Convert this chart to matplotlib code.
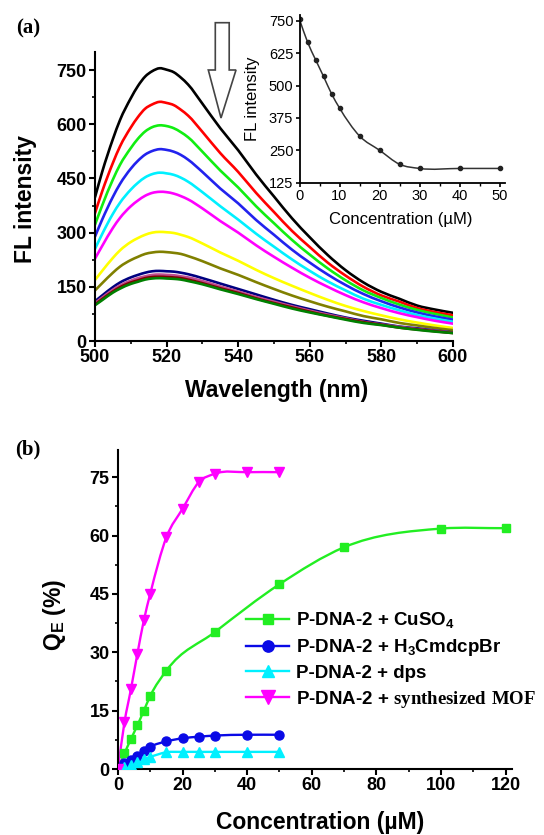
import matplotlib
matplotlib.use("Agg")
import numpy as np
import matplotlib.pyplot as plt
from matplotlib.patches import Polygon, PathPatch
from matplotlib.path import Path
from matplotlib.lines import Line2D
from matplotlib.ticker import MultipleLocator

plt.rcParams['font.family'] = ['Liberation Sans', 'DejaVu Sans']
plt.rcParams['mathtext.fontset'] = 'custom'
plt.rcParams['mathtext.rm'] = 'Liberation Serif:bold'
plt.rcParams['mathtext.sf'] = 'Liberation Sans:bold'
plt.rcParams['mathtext.bf'] = 'Liberation Serif:bold'

# ---------------- data: panel (a) spectra ----------------
wavelength = [500, 502, 505, 507, 510, 512, 514, 516, 518, 520, 522, 524, 526, 530,
              535, 540, 545, 550, 555, 560, 565, 570, 575, 580, 585, 590, 595, 600]
spec_black = [398, 468, 559, 612, 672, 706, 732, 747, 755, 751, 744, 729, 710, 657,
              589, 528, 461, 400, 340, 287, 238, 196, 162, 136, 117, 98, 87, 78]
spec_red = [354, 414, 493, 539, 591, 620, 643, 655, 662, 659, 653, 640, 624, 579,
            520, 468, 410, 357, 305, 260, 217, 181, 150, 126, 109, 91, 80, 71]
spec_green = [322, 375, 447, 488, 534, 560, 580, 592, 597, 595, 589, 578, 564, 524,
              472, 425, 373, 326, 280, 239, 201, 168, 140, 119, 101, 86, 75, 65]
spec_blue = [289, 336, 399, 435, 477, 499, 516, 526, 531, 529, 524, 515, 502, 468,
             422, 381, 335, 294, 253, 217, 184, 155, 130, 110, 93, 79, 68, 59]
spec_cyan = [255, 296, 352, 383, 419, 438, 453, 462, 466, 464, 460, 452, 441, 412,
             373, 336, 297, 261, 226, 194, 165, 140, 117, 100, 85, 72, 62, 53]
spec_magenta = [228, 263, 313, 341, 373, 389, 402, 410, 413, 412, 408, 401, 392, 367,
                332, 300, 265, 233, 203, 175, 150, 127, 107, 91, 77, 66, 56, 48]
spec_yellow = [169, 194, 230, 251, 274, 285, 294, 300, 302, 301, 299, 294, 288, 270,
               245, 222, 197, 174, 153, 133, 114, 97, 83, 71, 60, 51, 43, 36]
spec_darkyellow = [140, 160, 189, 206, 224, 233, 241, 245, 247, 246, 244, 241, 235, 221,
                   201, 183, 163, 144, 126, 110, 95, 82, 69, 60, 50, 43, 36, 30]
spec_navy = [110, 126, 149, 162, 176, 183, 189, 193, 194, 193, 192, 189, 185, 174,
             159, 144, 129, 114, 100, 88, 76, 65, 56, 48, 40, 35, 29, 24]
spec_purple = [105, 120, 142, 154, 167, 174, 179, 183, 184, 183, 182, 179, 176, 166,
               151, 137, 122, 109, 96, 84, 73, 63, 53, 46, 39, 33, 28, 23]
spec_wine = [101, 116, 137, 149, 162, 168, 174, 177, 178, 177, 176, 174, 170, 160,
             146, 133, 118, 105, 93, 81, 70, 61, 52, 45, 37, 32, 27, 22]
spec_olive = [99, 113, 134, 145, 158, 164, 170, 173, 174, 173, 172, 170, 166, 157,
              143, 130, 116, 103, 90, 79, 69, 59, 50, 44, 37, 31, 26, 22]

spectra = [spec_black, spec_red, spec_green, spec_blue, spec_cyan, spec_magenta,
           spec_yellow, spec_darkyellow, spec_navy, spec_purple, spec_wine, spec_olive]
spec_colors = ['#000000', '#ff0000', '#11ee11', '#2222ee', '#00f0ff', '#ff00ff',
               '#ffff00', '#808000', '#000080', '#c04c90', '#800000', '#008000']

# inset
inset_conc = [0, 2, 4, 6, 8, 10, 15, 20, 25, 30, 40, 50]
inset_fl = [755, 668, 600, 535, 468, 413, 305, 250, 196, 180, 180, 180]

# ---------------- data: panel (b) ----------------
conc_cu = [0, 2, 4, 6, 8, 10, 15, 30, 50, 70, 100, 120]
qe_cu = [0, 4.0, 7.7, 11.2, 15.0, 18.8, 25.3, 35.2, 47.5, 57.0, 61.8, 61.9]
conc_h3 = [0, 2, 4, 6, 8, 10, 15, 20, 25, 30, 40, 50]
qe_h3 = [0, 1.5, 2.3, 3.3, 4.6, 5.7, 7.1, 7.9, 8.3, 8.6, 8.8, 8.8]
conc_dps = [0, 2, 4, 6, 8, 10, 15, 20, 25, 30, 40, 50]
qe_dps = [0, 0.6, 1.1, 1.8, 2.5, 3.1, 4.3, 4.4, 4.4, 4.4, 4.4, 4.4]
conc_mof = [0, 2, 4, 6, 8, 10, 15, 20, 25, 30, 40, 50]
qe_mof = [0, 12.0, 20.5, 29.6, 38.2, 45.1, 59.6, 66.9, 73.7, 75.9, 76.3, 76.3]

legend_labels = ['P-DNA-2 + CuSO$_\\mathsf{4}$',
                 'P-DNA-2 + H$_\\mathsf{3}$CmdcpBr',
                 'P-DNA-2 + dps',
                 'P-DNA-2 + $\\mathrm{synthesized\\ MOF}$']


def smooth_path(x, y):
    """Smooth cubic Bezier path through the data points (three-point tangents)."""
    x = np.asarray(x, float)
    y = np.asarray(y, float)
    h = np.diff(x)
    d = np.diff(y) / h
    n = len(x)
    m = np.zeros(n)
    m[0], m[-1] = d[0], d[-1]
    for i in range(1, n - 1):
        m[i] = (h[i] * d[i - 1] + h[i - 1] * d[i]) / (h[i - 1] + h[i])
    verts = [(x[0], y[0])]
    codes = [Path.MOVETO]
    for i in range(n - 1):
        verts += [(x[i] + h[i] / 3, y[i] + m[i] * h[i] / 3),
                  (x[i + 1] - h[i] / 3, y[i + 1] - m[i + 1] * h[i] / 3),
                  (x[i + 1], y[i + 1])]
        codes += [Path.CURVE4] * 3
    return Path(verts, codes)


def smooth_line(ax, x, y, color, lw, zorder=2):
    p = PathPatch(smooth_path(x, y), facecolor='none', edgecolor=color, lw=lw,
                  capstyle='round', joinstyle='round', zorder=zorder)
    ax.add_patch(p)
    return p


W, H = 544, 835
fig = plt.figure(figsize=(W / 100, H / 100), dpi=100)


def style_axes(ax, lw=1.5):
    for s in ['top', 'right']:
        ax.spines[s].set_visible(False)
    for s in ['left', 'bottom']:
        ax.spines[s].set_linewidth(lw)


# ---------------- panel (a) ----------------
axa = fig.add_axes([95 / W, 1 - 341 / H, (453 - 95) / W, (341 - 52) / H])
for k, (y, c) in enumerate(zip(spectra, spec_colors)):
    smooth_line(axa, wavelength, y, c, 1.9, zorder=2 + k * 0.01)
axa.set_xlim(500, 600)
axa.set_ylim(0, 800)
axa.xaxis.set_major_locator(MultipleLocator(20))
axa.xaxis.set_minor_locator(MultipleLocator(10))
axa.yaxis.set_major_locator(MultipleLocator(150))
axa.yaxis.set_minor_locator(MultipleLocator(75))
style_axes(axa)
axa.tick_params(which='major', direction='out', length=4, width=1.5, labelsize=13, pad=2)
axa.tick_params(which='minor', direction='out', length=2.5, width=1.2)
for lab in axa.get_xticklabels() + axa.get_yticklabels():
    lab.set_fontweight('bold')
axa.set_xlabel('Wavelength (nm)', fontsize=16.5, fontweight='bold')
axa.set_ylabel('FL intensity', fontsize=16.5, fontweight='bold')
axa.xaxis.set_label_coords(0.506, -0.170)
axa.xaxis.label.set_va('center')
axa.yaxis.set_label_coords(-0.193, 0.491)
axa.yaxis.label.set_va('center')

# inset
axi = fig.add_axes([299.5 / W, 1 - 182.7 / H, (505 - 299.5) / W, (182.7 - 15) / H])
smooth_line(axi, inset_conc, inset_fl, '#333333', 1.1)
axi.plot(inset_conc, inset_fl, linestyle='none', marker='o', ms=3.0,
         mfc='#222222', mec='#222222')
axi.set_xlim(0, 51.3)
axi.set_ylim(125, 772)
axi.xaxis.set_major_locator(MultipleLocator(10))
axi.xaxis.set_minor_locator(MultipleLocator(5))
axi.yaxis.set_major_locator(MultipleLocator(125))
style_axes(axi, lw=1.3)
axi.tick_params(which='major', direction='out', length=3, width=1.2, labelsize=10.5, pad=1.5)
axi.tick_params(which='minor', direction='out', length=2, width=1.0)
axi.set_xlabel('Concentration (\u00b5M)', fontsize=12)
axi.set_ylabel('FL intensity', fontsize=12)
axi.xaxis.set_label_coords(0.494, -0.222)
axi.xaxis.label.set_va('center')
axi.yaxis.set_label_coords(-0.231, 0.502)
axi.yaxis.label.set_va('center')
axi.patch.set_alpha(0)

# arrow
arrow_px = [(215.3, 22.7), (229.2, 22.7), (229.2, 70), (236, 70), (221, 118),
            (208.3, 70), (215.3, 70)]
arrow = Polygon([(x / W, 1 - y / H) for x, y in arrow_px], closed=True,
                transform=fig.transFigure, facecolor='white', edgecolor='#444444', lw=1.2)
fig.patches.append(arrow)

fig.text(28 / W, 1 - 28 / H, '(a)', family='Liberation Serif', fontweight='bold',
         fontsize=15, ha='center', va='center')

# ---------------- panel (b) ----------------
axb = fig.add_axes([118 / W, 1 - 769 / H, (512 - 118) / W, (769 - 450) / H])
series_b = [(conc_cu, qe_cu, '#22ee22', 's', 5.5),
            (conc_h3, qe_h3, '#0a0ae6', 'o', 6.5),
            (conc_dps, qe_dps, '#00f0ff', '^', 6.5),
            (conc_mof, qe_mof, '#ff00ff', 'v', 7.5)]
handles = []
for x, y, c, mk, ms in series_b:
    smooth_line(axb, x, y, c, 1.7)
    axb.plot(x, y, linestyle='none', marker=mk, ms=ms, color=c, zorder=3)
    handles.append(Line2D([], [], color=c, lw=1.7, marker=mk, ms=ms * 1.25))
axb.set_xlim(0, 122)
axb.set_ylim(0, 82)
axb.xaxis.set_major_locator(MultipleLocator(20))
axb.xaxis.set_minor_locator(MultipleLocator(10))
axb.yaxis.set_major_locator(MultipleLocator(15))
axb.yaxis.set_minor_locator(MultipleLocator(7.5))
style_axes(axb)
axb.tick_params(which='major', direction='out', length=4, width=1.5, labelsize=13, pad=2)
axb.tick_params(which='minor', direction='out', length=2.5, width=1.2)
for lab in axb.get_xticklabels() + axb.get_yticklabels():
    lab.set_fontweight('bold')
axb.set_xlabel('Concentration (\u00b5M)', fontsize=16.5, fontweight='bold')
axb.set_ylabel('Q$_\\mathsf{E}$ (%)', fontsize=16.5, fontweight='bold')
axb.xaxis.set_label_coords(0.513, -0.169)
axb.xaxis.label.set_va('center')
axb.yaxis.set_label_coords(-0.162, 0.483)
axb.yaxis.label.set_va('center')

leg = fig.legend(handles, legend_labels, loc='center left',
                 bbox_to_anchor=(246 / W, 1 - 660 / H), bbox_transform=fig.transFigure,
                 frameon=False, handlelength=2.3, handletextpad=0.35, labelspacing=0.35,
                 borderpad=0, borderaxespad=0,
                 prop={'weight': 'bold', 'size': 13.5})

fig.text(28 / W, 1 - 449 / H, '(b)', family='Liberation Serif', fontweight='bold',
         fontsize=15, ha='center', va='center')

fig.savefig('out.png', dpi=100)
